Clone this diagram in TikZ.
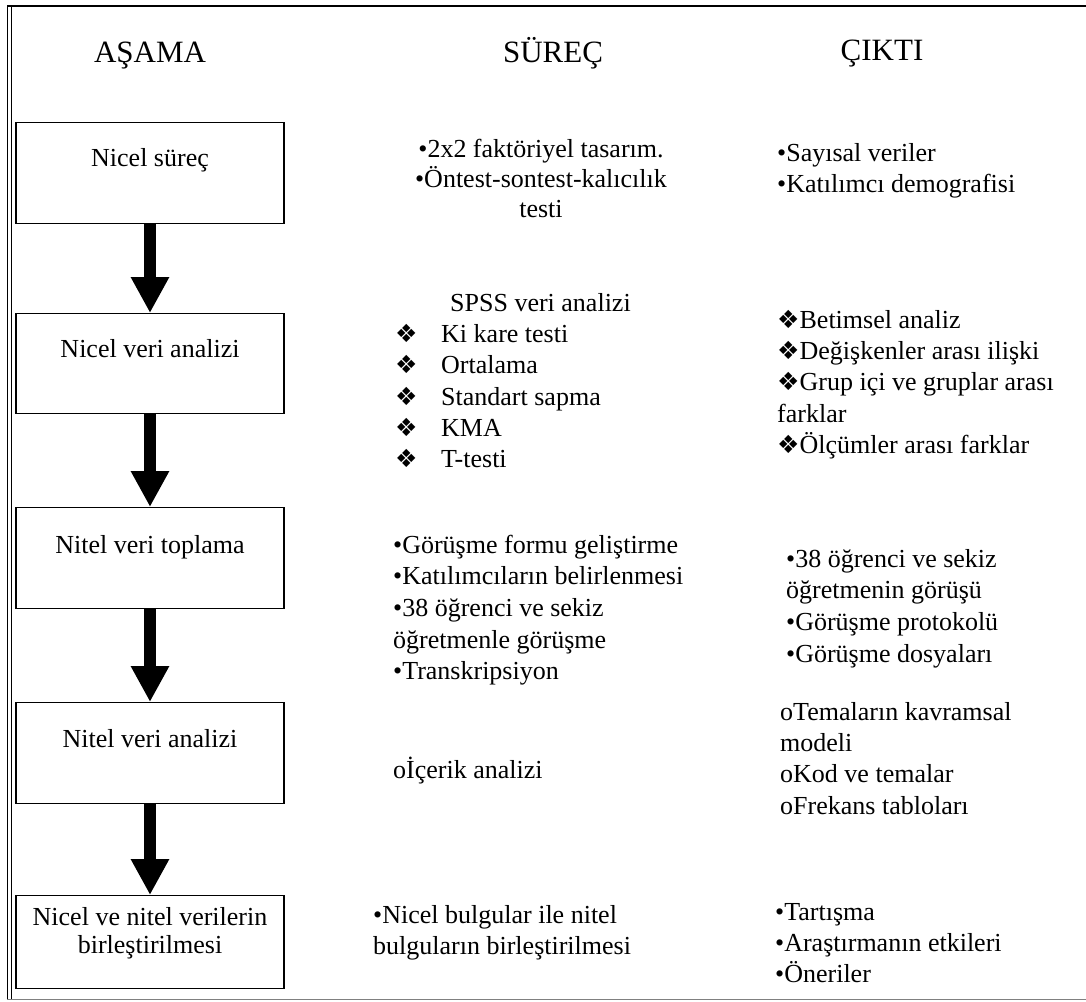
\documentclass[tikz,border=0pt]{standalone}
\usepackage{fontspec}
\setmainfont{Liberation Serif}
\newfontfamily\djv{DejaVu Sans}
\usetikzlibrary{arrows.meta}
\newcommand{\dmd}{{\djv\fontsize{25}{25}\selectfont ❖}}
\newcommand{\sr}{\rule{0pt}{22pt}}
\begin{document}
\begin{tikzpicture}[x=1pt,y=-1pt,
  txt/.style={inner sep=0pt, font=\fontsize{26}{31.3}\selectfont, align=left, anchor=north west},
  ctxt/.style={inner sep=0pt, font=\fontsize{26}{31.3}\selectfont, anchor=base},
  hdr/.style={inner sep=0pt, font=\fontsize{31}{36}\selectfont, anchor=base},
  stagebox/.style={draw, line width=1.3pt, minimum width=268pt, anchor=north, inner sep=0pt},
  flow/.style={line width=12pt, -{Triangle[width=36pt,length=36pt]}}]
\useasboundingbox (0,0) rectangle (1086,1001);
% frame
\draw[line width=2.5pt] (7,6) -- (1086,6);
\draw[line width=1pt] (7.5,5) -- (7.5,999);
\draw[line width=1pt] (11.5,7) -- (11.5,999);
\draw[gray, line width=1.5pt] (7,999.5) -- (1086,999.5);
% headers
\node[hdr] (h1) at (150,62) {AŞAMA};
\node[hdr] (h2) at (553,62) {SÜREÇ};
\node[hdr] (h3) at (882,60) {ÇIKTI};
% stage boxes
\node[stagebox, minimum height=101pt] (b1) at (150,122) {};
\node[stagebox, minimum height=100pt] (b2) at (150,313) {};
\node[stagebox, minimum height=101pt] (b3) at (150,507) {};
\node[stagebox, minimum height=101pt] (b4) at (150,702) {};
\node[stagebox, minimum height=93pt] (b5) at (150,895) {};
\node[ctxt] (t1) at (150,166) {Nicel süreç};
\node[ctxt] (t2) at (150,357) {Nicel veri analizi};
\node[ctxt] (t3) at (150,553) {Nitel veri toplama};
\node[ctxt] (t4) at (150,747) {Nitel veri analizi};
\node[inner sep=0pt, font=\fontsize{26}{28}\selectfont, align=center, anchor=north] (t5) at (150,903) {\sr Nicel ve nitel verilerin\\birleştirilmesi};
% arrows
\draw[flow] (b1.south) -- (b2.north);
\draw[flow] (b2.south) -- (b3.north);
\draw[flow] (b3.south) -- (b4.north);
\draw[flow] (b4.south) -- (b5.north);
% column 2
\node[inner sep=0pt, font=\fontsize{26}{30}\selectfont, align=center, anchor=north] (c21) at (541,135) {\sr•2x2 faktöriyel tasarım.\\•Öntest-sontest-kalıcılık\\testi};
\node[txt] (c22) at (395,289) {\sr\hspace*{55pt}SPSS veri analizi\\
\makebox[46pt][l]{\dmd}Ki kare testi\\
\makebox[46pt][l]{\dmd}Ortalama\\
\makebox[46pt][l]{\dmd}Standart sapma\\
\makebox[46pt][l]{\dmd}KMA\\
\makebox[46pt][l]{\dmd}T-testi};
\node[txt, font=\fontsize{26}{31.6}\selectfont] (c23) at (393,531) {\sr•Görüşme formu geliştirme\\•Katılımcıların belirlenmesi\\•38 öğrenci ve sekiz\\öğretmenle görüşme\\•Transkripsiyon};
\node[txt] (c24) at (393,756) {\sr oİçerik analizi};
\node[txt, font=\fontsize{26}{31}\selectfont] (c25) at (373,901) {\sr•Nicel bulgular ile nitel\\bulguların birleştirilmesi};
% column 3
\node[txt, font=\fontsize{26}{31}\selectfont] (c31) at (777,139) {\sr•Sayısal veriler\\•Katılımcı demografisi};
\node[txt] (c32) at (777,306) {\sr\dmd Betimsel analiz\\\dmd Değişkenler arası ilişki\\\dmd Grup içi ve gruplar arası\\farklar\\\dmd Ölçümler arası farklar};
\node[txt, font=\fontsize{26}{31.6}\selectfont] (c33) at (786,545) {\sr•38 öğrenci ve sekiz\\öğretmenin görüşü\\•Görüşme protokolü\\•Görüşme dosyaları};
\node[txt] (c34) at (780,698) {\sr oTemaların kavramsal\\modeli\\oKod ve temalar\\oFrekans tabloları};
\node[txt] (c35) at (775,898) {\sr•Tartışma\\•Araştırmanın etkileri\\•Öneriler};
\end{tikzpicture}
\end{document}
